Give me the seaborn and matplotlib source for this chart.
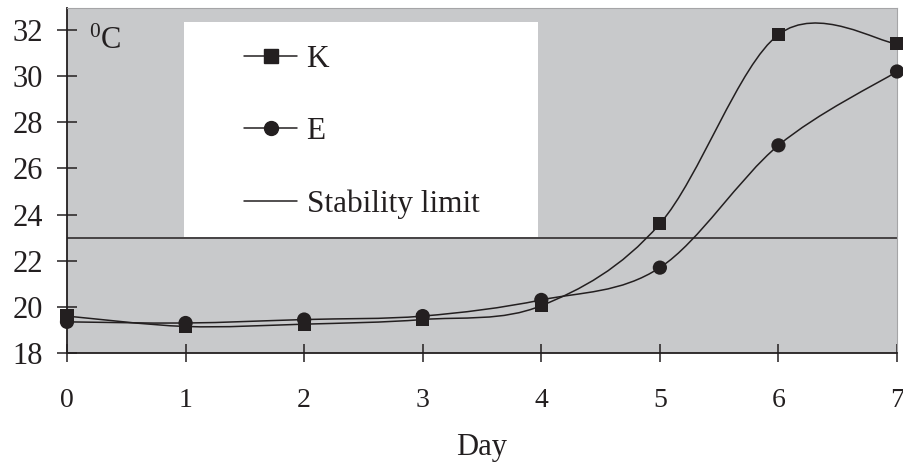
import numpy as np
import pandas as pd
import seaborn as sns
import matplotlib
matplotlib.use("Agg")
from matplotlib import pyplot as plt
from matplotlib.path import Path
from matplotlib.patches import PathPatch, Rectangle
from matplotlib.lines import Line2D

days = [0, 1, 2, 3, 4, 5, 6, 7]
k_temp = [19.6, 19.15, 19.25, 19.45, 20.05, 23.6, 31.8, 31.4]
e_temp = [19.35, 19.3, 19.45, 19.6, 20.3, 21.7, 27.0, 30.2]
stability_limit = 23
y_ticks = [18, 20, 22, 24, 26, 28, 30, 32]

ink = "#231f20"
panel = "#c8c9cb"

sns.set_theme(style="white")
plt.rcParams["font.family"] = ["Liberation Serif", "DejaVu Serif"]
plt.rcParams["mathtext.fontset"] = "custom"
plt.rcParams["mathtext.rm"] = "Liberation Serif"

df = pd.DataFrame({
    "day": days + days,
    "temp": k_temp + e_temp,
    "series": ["K"] * len(days) + ["E"] * len(days),
})


def smooth_path(xs, ys):
    # excel-like smoothed line: cubic bezier with catmull-rom control points
    pts = np.column_stack([xs, ys]).astype(float)
    n = len(pts)
    verts = [pts[0]]
    codes = [Path.MOVETO]
    for i in range(n - 1):
        p0 = pts[max(i - 1, 0)]
        p1 = pts[i]
        p2 = pts[i + 1]
        p3 = pts[min(i + 2, n - 1)]
        verts += [p1 + (p2 - p0) / 6, p2 - (p3 - p1) / 6, p2]
        codes += [Path.CURVE4] * 3
    return Path(verts, codes)


fig = plt.figure(figsize=(9.04, 4.73), dpi=100)
ax = fig.add_axes([0.0741, 0.2537, 0.9182, 0.7293])
ax.set_facecolor(panel)

for name, vals in [("K", k_temp), ("E", e_temp)]:
    ax.add_patch(PathPatch(smooth_path(days, vals), facecolor="none",
                           edgecolor=ink, linewidth=1.1, zorder=3))

sns.scatterplot(data=df, x="day", y="temp", style="series",
                markers={"K": "s", "E": "o"}, size="series",
                sizes={"K": 90, "E": 105}, color=ink, linewidth=0,
                legend=False, clip_on=False, zorder=4, ax=ax)

ax.axhline(stability_limit, color=ink, linewidth=1.1, zorder=2)

# white legend panel
ax.add_patch(Rectangle((0.141, 0.336), 0.426, 0.6234, transform=ax.transAxes,
                       facecolor="white", edgecolor="none", zorder=5))
handles = [
    Line2D([], [], color=ink, linewidth=1.1, marker="s", markersize=9.5),
    Line2D([], [], color=ink, linewidth=1.1, marker="o", markersize=10),
    Line2D([], [], color=ink, linewidth=1.1),
]
leg = ax.legend(handles, ["K", "E", "Stability limit"], loc="center left",
                bbox_to_anchor=(0.2133, 0.6406), frameon=False, fontsize=22.5,
                handlelength=1.7, handletextpad=0.3, labelspacing=1.38,
                borderpad=0, borderaxespad=0)
leg.set_zorder(6)
for t in leg.get_texts():
    t.set_color(ink)

ax.text(0.027, 0.945, r"$\mathregular{^0}$C", transform=ax.transAxes,
        fontsize=22, color=ink, va="top", ha="left", zorder=6)

ax.set_xlim(0, 7)
ax.set_ylim(18, 32.95)
ax.set_xticks(days)
ax.set_yticks(y_ticks)
ax.tick_params(axis="y", direction="inout", length=14, width=1.1,
               color=ink, labelcolor=ink, labelsize=22, pad=10.5, left=True)
ax.tick_params(axis="x", direction="inout", length=13, width=1.1,
               color=ink, labelcolor=ink, labelsize=20, pad=19, bottom=True)
ax.set_xlabel("Day", fontsize=22, color=ink, labelpad=14)
ax.set_ylabel("")

for side in ["left", "bottom"]:
    ax.spines[side].set_color(ink)
    ax.spines[side].set_linewidth(1.3)
for side in ["top", "right"]:
    ax.spines[side].set_color("#a5a5a7")
    ax.spines[side].set_linewidth(0.8)

fig.savefig("out.png", dpi=100)
